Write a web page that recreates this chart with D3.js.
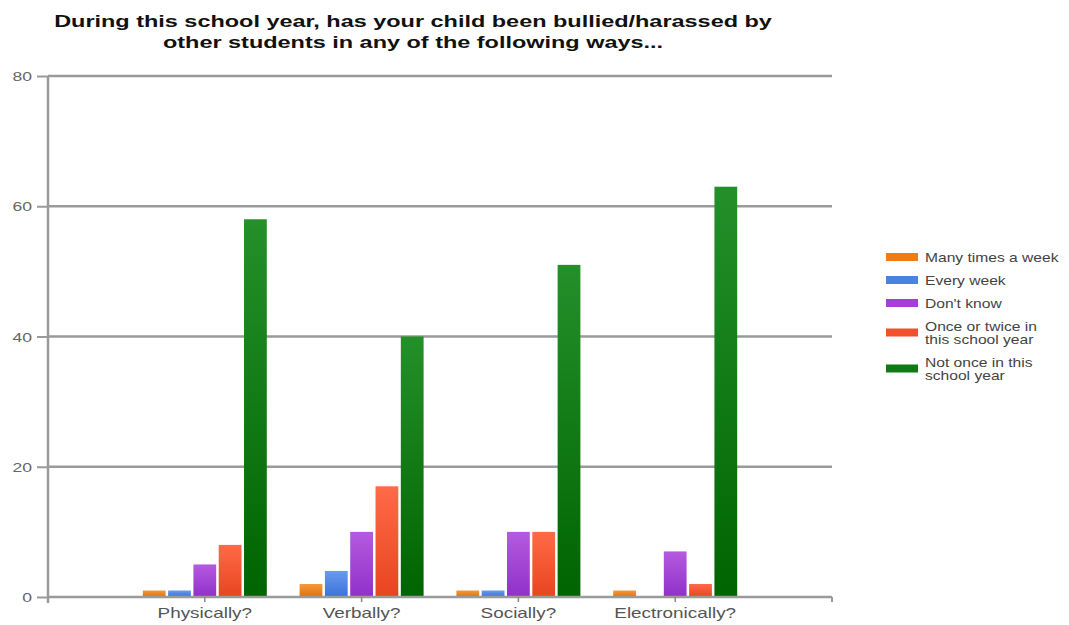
<!DOCTYPE html>
<html>
<head>
<meta charset="utf-8">
<script src="https://cdn.jsdelivr.net/npm/d3@7"></script>
<style>
  html, body { margin: 0; padding: 0; background: #fff; }
  svg { display: block; font-family: Arial, "Liberation Sans", sans-serif; }
</style>
</head>
<body>
<svg id="chart" width="1069" height="625"></svg>
<script>
// Survey answers: number of parents per response, for each way of bullying
const categories = ["Physically?", "Verbally?", "Socially?", "Electronically?"];
const seriesNames = [
  "Many times a week",
  "Every week",
  "Don't know",
  "Once or twice in this school year",
  "Not once in this school year"
];
const legendLines = [
  ["Many times a week"],
  ["Every week"],
  ["Don't know"],
  ["Once or twice in", "this school year"],
  ["Not once in this", "school year"]
];
const manyTimesAWeek = [1, 2, 1, 1];
const everyWeek = [1, 4, 1, 0];
const dontKnow = [5, 10, 10, 7];
const onceOrTwice = [8, 17, 10, 2];
const notOnce = [58, 40, 51, 63];
const yTickValues = [0, 20, 40, 60, 80];
const titleLines = [
  "During this school year, has your child been bullied/harassed by",
  "other students in any of the following ways..."
];

const seriesValues = [manyTimesAWeek, everyWeek, dontKnow, onceOrTwice, notOnce];
const colors = [
  ["#f59a3a", "#e0700a"],
  ["#6a9af0", "#3a72d8"],
  ["#b55ae0", "#9030c8"],
  ["#ff6a48", "#e84420"],
  ["#24902a", "#006400"]
];
const swatchColors = ["#f07d14", "#4a82e0", "#a43ed6", "#f0502c", "#0f7a14"];

const svg = d3.select("#chart");

// text is drawn horizontally widened by a given factor
function stretchedText(sel, x, y, sx) {
  return sel.attr("transform", `translate(${x},${y}) scale(${sx},1)`);
}

// gradients for the bars
const defs = svg.append("defs");
colors.forEach((c, i) => {
  const g = defs.append("linearGradient")
    .attr("id", "grad" + i)
    .attr("x1", 0).attr("y1", 0).attr("x2", 0).attr("y2", 1);
  g.append("stop").attr("offset", "0%").attr("stop-color", c[0]);
  g.append("stop").attr("offset", "100%").attr("stop-color", c[1]);
});

const plotLeft = 48, plotRight = 832, plotTop = 76, plotBottom = 597;

const y = d3.scaleLinear().domain([0, 80]).range([plotBottom, plotTop]);
const x = d3.scalePoint().domain(categories).range([plotLeft, plotRight]).padding(1);
const xs = d3.scaleBand().domain(seriesNames).range([-62, 62]).paddingInner(0.1);

// title
svg.append("g").selectAll("text")
  .data(titleLines)
  .join("text")
  .each(function (d, i) { stretchedText(d3.select(this), 413, 27 + i * 21, 1.38); })
  .attr("text-anchor", "middle")
  .attr("font-size", 17)
  .attr("font-weight", "bold")
  .attr("fill", "#111")
  .text(d => d);

// horizontal gridlines
svg.append("g").selectAll("line")
  .data(yTickValues.filter(v => v > 0))
  .join("line")
  .attr("x1", plotLeft).attr("x2", plotRight)
  .attr("y1", d => y(d)).attr("y2", d => y(d))
  .attr("stroke", "#9a9a9a").attr("stroke-width", 2.5);

// y axis
const yAxis = svg.append("g").attr("transform", `translate(${plotLeft},0)`)
  .call(d3.axisLeft(y).tickValues(yTickValues).tickSize(11).tickFormat(""));
yAxis.select(".domain").attr("stroke", "#9a9a9a").attr("stroke-width", 2.5)
  .attr("d", `M0,${plotTop}V${plotBottom + 6}`);
yAxis.selectAll(".tick line").attr("stroke", "#9a9a9a").attr("stroke-width", 2);
yAxis.selectAll(".tick")
  .append("text")
  .each(function () { stretchedText(d3.select(this), -16, 4.5, 1.35); })
  .attr("text-anchor", "end")
  .attr("font-size", 13)
  .attr("fill", "#666")
  .text(d => d);

// bars
const seriesG = svg.append("g").selectAll("g")
  .data(seriesValues)
  .join("g")
  .attr("fill", (d, i) => `url(#grad${i})`);

seriesG.each(function (vals, si) {
  d3.select(this).selectAll("rect")
    .data(vals.map((v, ci) => ({ v, cat: categories[ci] })))
    .join("rect")
    .attr("x", d => x(d.cat) + xs(seriesNames[si]))
    .attr("width", xs.bandwidth())
    .attr("y", d => y(d.v))
    .attr("height", d => y(0) - y(d.v));
});

// x axis baseline and ticks
const xAxis = svg.append("g").attr("transform", `translate(0,${plotBottom})`);
xAxis.append("line")
  .attr("x1", plotLeft).attr("x2", plotRight)
  .attr("stroke", "#9a9a9a").attr("stroke-width", 2.5);
xAxis.append("line")
  .attr("x1", plotRight).attr("x2", plotRight).attr("y1", 0).attr("y2", 5)
  .attr("stroke", "#9a9a9a").attr("stroke-width", 2);
xAxis.selectAll(".cat-tick")
  .data(categories)
  .join("line")
  .attr("class", "cat-tick")
  .attr("x1", d => x(d)).attr("x2", d => x(d))
  .attr("y1", 0).attr("y2", 5)
  .attr("stroke", "#888").attr("stroke-width", 1.5);
xAxis.selectAll(".cat-label")
  .data(categories)
  .join("text")
  .attr("class", "cat-label")
  .each(function (d) { stretchedText(d3.select(this), x(d), 21, 1.35); })
  .attr("text-anchor", "middle")
  .attr("font-size", 14)
  .attr("fill", "#555")
  .text(d => d);

// legend
const legend = svg.append("g");
let cursor = 245.5;
legendLines.forEach((lines, i) => {
  const h = lines.length * 13 + 10;
  const cy = cursor + h / 2;
  cursor += h;
  const item = legend.append("g");
  item.append("rect")
    .attr("x", 886).attr("y", cy - 4)
    .attr("width", 32).attr("height", 8)
    .attr("fill", swatchColors[i]);
  item.selectAll("text")
    .data(lines)
    .join("text")
    .each(function (d, j) {
      stretchedText(d3.select(this), 925, cy + 4.5 + (j - (lines.length - 1) / 2) * 13, 1.25);
    })
    .attr("font-size", 12.5)
    .attr("fill", "#444")
    .text(d => d);
});
</script>
</body>
</html>
